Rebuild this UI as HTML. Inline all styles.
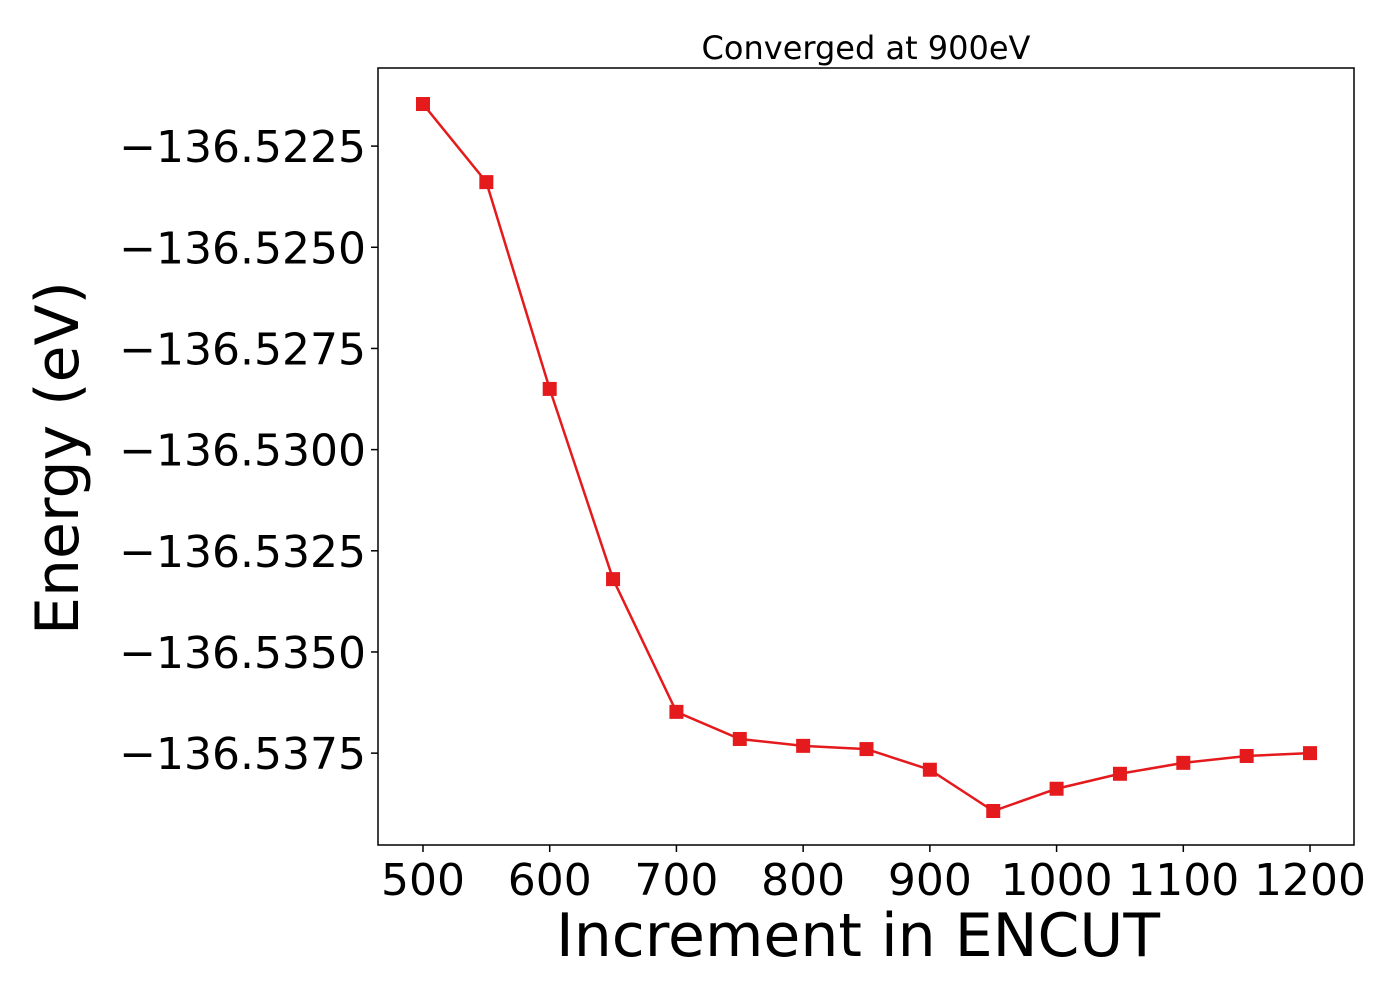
<!DOCTYPE html>
<html><head><meta charset="utf-8"><style>
html,body{margin:0;padding:0;background:#fff;}
svg{display:block;font-family:"DejaVu Sans","Liberation Sans",sans-serif;}
</style></head><body>
<svg id="chart" width="1400" height="1000" viewBox="0 0 1400 1000" xmlns="http://www.w3.org/2000/svg">
<text x="866" y="59" font-size="32" text-anchor="middle">Converged at 900eV</text>
<text x="858" y="956" font-size="60" text-anchor="middle">Increment in ENCUT</text>
<text transform="translate(78,458) rotate(-90)" font-size="60" text-anchor="middle">Energy (eV)</text>
<g id="plot"></g>
<rect x="378" y="68" width="976" height="777" fill="none" stroke="#000" stroke-width="1.5"/>
</svg>
<script>
const xValues=[500,550,600,650,700,750,800,850,900,950,1000,1050,1100,1150,1200];
const energyValues=[-136.52146,-136.52339,-136.52850,-136.53320,-136.53648,-136.53715,-136.53732,-136.53740,-136.53791,-136.53893,-136.53838,-136.53801,-136.53774,-136.53757,-136.53750];
const xTicks=[500,600,700,800,900,1000,1100,1200];
const yTicks=[-136.5225,-136.5250,-136.5275,-136.5300,-136.5325,-136.5350,-136.5375];
const yTickLabels=["\u2212136.5225","\u2212136.5250","\u2212136.5275","\u2212136.5300","\u2212136.5325","\u2212136.5350","\u2212136.5375"];
const L=378,R=1354,T=68,B=845,xmin=464.5,xmax=1234.7,ymin=-136.53977,ymax=-136.52057;
const sx=v=>L+(v-xmin)/(xmax-xmin)*(R-L);
const sy=v=>B-(v-ymin)/(ymax-ymin)*(B-T);
const NS="http://www.w3.org/2000/svg";
const g=document.getElementById('plot');
function mk(t,a){const e=document.createElementNS(NS,t);for(const k in a)e.setAttribute(k,a[k]);g.appendChild(e);return e;}
xTicks.forEach(v=>{
 const l=mk('line',{x1:sx(v),x2:sx(v),y1:B,y2:B+7,stroke:'#000','stroke-width':1.5});
 
 
 const t=mk('text',{x:sx(v),y:B+50,'font-size':44,'text-anchor':'middle'});
 t.textContent=v;
 
 
});
yTicks.forEach((v,i)=>{
 const l=mk('line',{x1:L-7,x2:L,y1:sy(v),y2:sy(v),stroke:'#000','stroke-width':1.5});
 
 
 const t=mk('text',{x:L-12,y:sy(v)+16,'font-size':44,'text-anchor':'end'});
 t.textContent=yTickLabels[i];
 
 
});
const pts=xValues.map((x,i)=>sx(x)+','+sy(energyValues[i])).join(' ');
const pl=mk('polyline',{points:pts,fill:'none',stroke:'#e41a1c','stroke-width':2.5});


xValues.forEach((x,i)=>{
 const r=mk('rect',{x:sx(x)-7,y:sy(energyValues[i])-7,width:14,height:14,fill:'#e41a1c'});
 
 
});
</script>
</body></html>
